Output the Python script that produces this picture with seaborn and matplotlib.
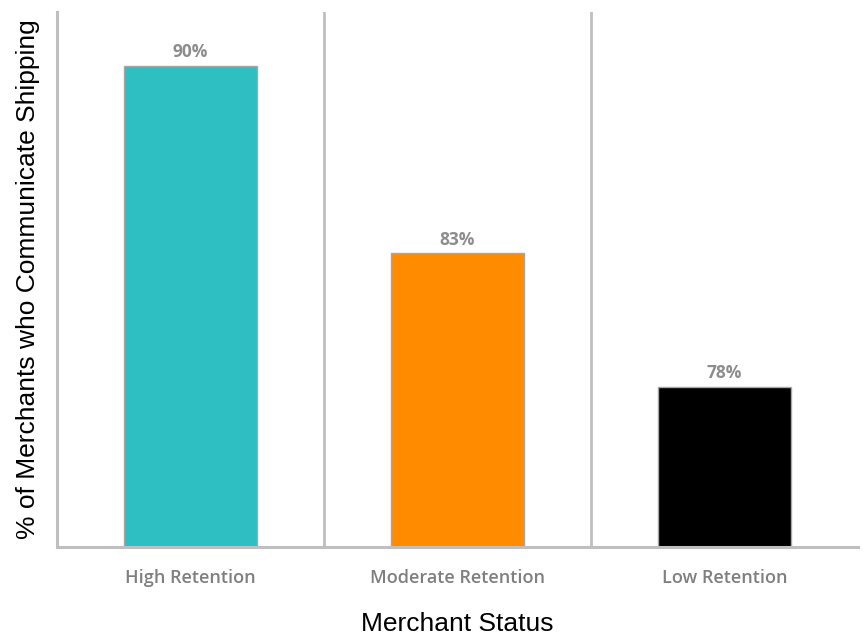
import matplotlib
matplotlib.use("Agg")
import matplotlib.pyplot as plt
import seaborn as sns
import pandas as pd

categories = ["High Retention", "Moderate Retention", "Low Retention"]
values = [90, 83, 78]
value_labels = ["90%", "83%", "78%"]
colors = ["#2DBFC2", "#FF8C00", "#000000"]

df = pd.DataFrame({"status": categories, "pct": values})

sns.set_theme(style="white")
plt.rcParams["font.family"] = ["Liberation Sans", "DejaVu Sans"]

fig = plt.figure(figsize=(8.64, 6.4), dpi=100)
ax = fig.add_axes([57 / 864, 93 / 640, 801 / 864, 535 / 640])

sns.barplot(data=df, x="status", y="pct", hue="status", palette=colors,
            order=categories, hue_order=categories, width=0.5, legend=False,
            saturation=1, edgecolor="#A6A6A6", linewidth=1.0, ax=ax)

ax.set_xlim(-0.5, 2.5)
ax.set_ylim(72, 92)
ax.set_yticks([])

for i, (v, lab) in enumerate(zip(values, value_labels)):
    ax.annotate(lab, (i, v), xytext=(0, 3), textcoords="offset points",
                ha="center", va="bottom", fontsize=12.5, fontweight="bold",
                color="#8C8C8C", family=["Open Sans", "DejaVu Sans"])

for xv in [0.5, 1.5]:
    ax.axvline(xv, color="#BFBFBF", linewidth=2.0, zorder=0)

for side in ["top", "right"]:
    ax.spines[side].set_visible(False)
for side in ["left", "bottom"]:
    ax.spines[side].set_color("#BFBFBF")
    ax.spines[side].set_linewidth(2.2)

ax.tick_params(axis="x", length=0, pad=16, labelsize=13, labelcolor="#7F7F7F")
for t in ax.get_xticklabels():
    t.set_family(["Open Sans", "DejaVu Sans"])
    t.set_fontweight("semibold")

ax.set_xlabel("Merchant Status", fontsize=19, color="black", labelpad=18)
ax.set_ylabel("% of Merchants who Communicate Shipping", fontsize=19,
              color="black", labelpad=12)

fig.savefig("out.png", dpi=100)
